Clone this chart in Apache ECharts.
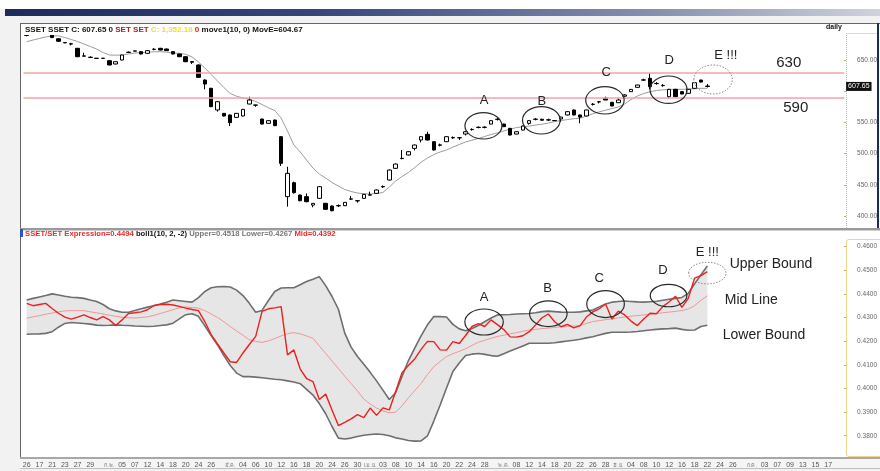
<!DOCTYPE html>
<html>
<head>
<meta charset="utf-8">
<script src="https://cdn.jsdelivr.net/npm/echarts@6/dist/echarts.min.js"></script>
<style>
  html, body { margin: 0; padding: 0; background: #fff; }
  #wrap { position: relative; width: 880px; height: 471px; overflow: hidden; background: #f2f2f2; }
  .box { position: absolute; box-sizing: border-box; }
  #chart { position: absolute; left: 0; top: 0; width: 880px; height: 471px; }
</style>
</head>
<body>
<div id="wrap">
  <div class="box" style="left:0;top:0;width:880px;height:9px;background:#fff"></div>
  <div class="box" style="left:5px;top:9px;width:875px;height:7px;background:linear-gradient(to right,#1e2b5a 0%,#35457a 35%,#8891b0 75%,#d0d3db 100%)"></div>
  <div class="box" style="left:20px;top:23px;width:860px;height:205px;background:#fff;border-top:1px solid #666;border-left:1px solid #666"></div>
  <div class="box" style="left:846px;top:33px;width:31px;height:195px;border-left:1px dotted #dcb55a;border-top:1px solid #f0dca0"></div>
  <div class="box" style="left:877px;top:23px;width:2px;height:205px;background:#1e2b5a"></div>
  <div class="box" style="left:20px;top:228px;width:860px;height:3px;background:#9a9a9a;border-bottom:1px solid #d0d0d0"></div>
  <div class="box" style="left:20px;top:231px;width:860px;height:226px;background:#fff;border-left:1px solid #666"></div>
  <div class="box" style="left:846px;top:239px;width:36px;height:218px;border:1px solid #f0d68c;border-radius:3px"></div>
  <div class="box" style="left:20px;top:229px;width:3px;height:8px;background:#2a55c8"></div>
  <div class="box" style="left:20px;top:457px;width:860px;height:12px;background:#f5f5f5;border-top:2px solid #a8a8a8;border-bottom:1px solid #c0c0c0"></div>
  <div id="chart"></div>
</div>
<script>
// SSET daily candles [open, close, low, high], Jan 15 - Jun 22
const candles = [
  [690,689.5,688,691],[694,697,693,698],[697,699,696,700],[699,696,694,700],[691,686,685,692],
  [684,680,679,685],[678,677.5,677,678.5],[676,675.5,673.5,677.5],[668.7,655.3,654.5,669.5],[656.6,656.2,655.8,661.7],
  [654.5,654,653,656],[652.9,652.5,652.2,653.2],[652.6,652.9,652.2,653.3],[648.9,642,641.5,649.5],[643.6,647.3,643,648],
  [650,658,649.5,658.5],[662,662.6,661.3,663.6],[664.2,664.6,664,665],[663.4,659.6,659,664],[660.7,665,660,665.5],
  [667,667.3,665.5,669],[668.7,666,665.5,669.5],[667.6,665,664.5,668.5],[663.4,659.6,659,664],[659.6,655.3,654.5,660],
  [655.3,647.3,646.5,656],[647.5,646.5,643.6,647.8],[642,622.2,621.5,643],[617.9,611.5,603,619],[604.6,575.2,574.5,605.5],
  [569.9,583.2,567.2,584],[564.5,560.3,559.5,565],[561.9,549.6,544.2,562.5],[558.1,564.5,557.5,565],[560.3,570.9,559.5,571.5],
  [579.5,585.9,579,591.2],[577.6,577.9,575,578.2],[555.4,547.4,546.5,556],[548.5,552.8,548,553.5],[553.8,544.8,544,554.5],
  [527.1,484.4,480.1,528],[431,468.4,415,479],[453.4,437.4,436,455],[433.6,424.6,423.5,434.5],[431,423,422,436.3],
  [417.5,420.3,414,420.8],[428.3,447,427.5,448],[420.3,410.7,410,421],[416,408.5,407.5,417],[416.3,416.8,414.5,418.5],
  [416.5,421.9,416,422.5],[427,427.5,426,432],[424.2,424.6,421.4,425],[428.3,434.7,427.5,435.5],[433.9,433.5,433,439],
  [436.3,441.7,435.5,442.5],[446.8,447.3,445,449],[457.7,473.7,457,474.5],[476.4,483.3,475.5,484],[492,492.5,491,505.7],
  [497.8,503.1,497,504],[508.4,513.8,505,514.5],[521.8,527.1,518,528],[530.9,521.8,521,535.1],[519.1,505.8,505,520],
  [513.5,514,511.5,516],[519.1,527.1,518.5,528],[525.3,525.8,523.5,527.5],[525.2,525.5,521.8,526],[531.4,535.1,529,536],
  [538.5,538.8,536.8,540.5],[541.8,542.3,540.5,543.5],[542,542.4,540.5,543.8],[547.4,552.8,547,553.5],[554.7,555.1,553,557],
  [547.4,543.2,542.5,548],[540.5,529.8,529,541],[531.4,535.1,531,535.8],[537.8,544.2,537.3,545],[548.5,552.8,546.5,553.5],
  [554.9,555.2,553.3,556.8],[555,553.5,553,556],[553.8,554.2,552.5,556],[552.8,553,552.5,553.4],[555.5,558.5,551,559],
  [561.9,567.2,561.4,568],[569.9,561.9,561.3,570.5],[561.9,558.5,548.5,562.5],[560.3,569.9,559.8,570.5],[578.8,579.2,577,581],
  [582.8,583.2,580.5,583.5],[588.6,585.9,585.5,591.2],[582.2,576.3,575.8,583],[581.6,585.9,581,589],[592,594,591,595],
  [599.3,602.9,598.8,603.5],[606.2,609.9,605.5,610.5],[617.8,618.2,616.5,620],[620.6,607.3,603,628.6],[612.2,612.5,610.5,614.5],
  [609.3,609,607,611.5],[591.2,603,588,603.8],[603,591.2,590.5,603.8],[599.3,595.5,595,600],[596.6,603,596,603.6],
  [604.6,613.7,604,614.3],[617.9,614.7,614,618.5],[608.2,607.65,606,611.5]
];

// move1(10, 0) line
const moveE = [
  679.3,682,684.5,686.9,688.5,688.8,686,682.9,679.6,675.6,
  671.6,667.6,662,658,657.7,658,659.6,661.2,661.7,662.5,
  663.1,663.3,662.5,661.2,660.7,659.1,654.8,646.8,637.2,626.8,
  616.3,605.9,596.3,592,589.1,587.2,583.5,578.7,573.4,569.1,
  557,536.2,513.8,502.6,489.7,476.9,467.3,460.9,453.7,448.1,
  442.5,439.3,436.9,435.7,435.3,436.1,437.7,446.5,456.1,463.3,
  469.7,477.7,486.2,492.9,498.6,502.6,505.8,510.3,514.6,518.6,
  521.5,524.2,527.4,530.6,533.3,536.2,539.4,541.7,543,544.2,
  545.8,547.1,549,551.4,553,554.6,555.9,556.7,560.3,563.8,
  567,569.5,572.3,574.7,579.5,586.7,592.3,596.3,599.2,601.1,
  602.2,602.9,603,603,603.5,604,604.6,604.67
];

// SSET/SET expression and boll1(10, 2, -2)
const ratio = [
  0.4360,0.4350,0.4355,0.4360,0.4338,0.4318,0.4302,0.4293,0.4302,0.4311,
  0.4300,0.4290,0.4304,0.4290,0.4266,0.4290,0.4317,0.4320,0.4324,0.4333,
  0.4351,0.4355,0.4356,0.4353,0.4347,0.4340,0.4334,0.4329,0.4283,0.4228,
  0.4188,0.4150,0.4113,0.4110,0.4150,0.4186,0.4220,0.4326,0.4337,0.4341,
  0.4346,0.4142,0.4163,0.4082,0.4042,0.4029,0.3953,0.3976,0.3909,0.3843,
  0.3856,0.3871,0.3889,0.3877,0.3917,0.3886,0.3918,0.3909,0.3987,0.4067,
  0.4097,0.4125,0.4165,0.4199,0.4198,0.4163,0.4162,0.4198,0.4190,0.4224,
  0.4262,0.4274,0.4262,0.4290,0.4270,0.4249,0.4218,0.4217,0.4223,0.4240,
  0.4269,0.4299,0.4315,0.4282,0.4261,0.4271,0.4256,0.4266,0.4302,0.4324,
  0.4337,0.4357,0.4294,0.4327,0.4311,0.4285,0.4266,0.4294,0.4318,0.4316,
  0.4346,0.4367,0.4390,0.4343,0.4381,0.4467,0.4477,0.4494
];
const upper = [
  0.4374,0.4381,0.4387,0.4393,0.4400,0.4395,0.4390,0.4386,0.4384,0.4381,
  0.4374,0.4368,0.4355,0.4337,0.4328,0.4322,0.4322,0.4330,0.4337,0.4344,
  0.4350,0.4357,0.4365,0.4374,0.4371,0.4368,0.4365,0.4384,0.4410,0.4426,
  0.4430,0.4431,0.4429,0.4416,0.4393,0.4360,0.4322,0.4330,0.4372,0.4410,
  0.4425,0.4426,0.4426,0.4439,0.4452,0.4462,0.4473,0.4435,0.4389,0.4335,
  0.4234,0.4175,0.4135,0.4102,0.4068,0.4032,0.3993,0.3953,0.3982,0.4051,
  0.4117,0.4171,0.4222,0.4269,0.4304,0.4304,0.4302,0.4271,0.4252,0.4244,
  0.4254,0.4266,0.4282,0.4298,0.4311,0.4312,0.4313,0.4315,0.4316,0.4317,
  0.4320,0.4325,0.4327,0.4325,0.4323,0.4322,0.4322,0.4324,0.4328,0.4332,
  0.4345,0.4357,0.4365,0.4368,0.4370,0.4368,0.4366,0.4365,0.4367,0.4369,
  0.4373,0.4377,0.4381,0.4385,0.4402,0.4443,0.4481,0.4518
];
const mid = [
  0.4297,0.4303,0.4308,0.4314,0.4319,0.4324,0.4328,0.4329,0.4329,0.4329,
  0.4324,0.4320,0.4315,0.4310,0.4305,0.4301,0.4299,0.4298,0.4300,0.4303,
  0.4309,0.4317,0.4325,0.4333,0.4341,0.4345,0.4342,0.4340,0.4329,0.4315,
  0.4300,0.4282,0.4262,0.4243,0.4225,0.4206,0.4199,0.4195,0.4201,0.4211,
  0.4222,0.4232,0.4236,0.4231,0.4222,0.4212,0.4180,0.4148,0.4116,0.4084,
  0.4052,0.4021,0.3989,0.3955,0.3934,0.3917,0.3905,0.3897,0.3900,0.3926,
  0.3960,0.3991,0.4021,0.4059,0.4092,0.4114,0.4135,0.4147,0.4157,0.4168,
  0.4182,0.4195,0.4204,0.4212,0.4220,0.4225,0.4231,0.4236,0.4242,0.4247,
  0.4250,0.4253,0.4255,0.4258,0.4261,0.4263,0.4264,0.4266,0.4275,0.4283,
  0.4287,0.4291,0.4294,0.4299,0.4302,0.4306,0.4308,0.4311,0.4314,0.4317,
  0.4320,0.4323,0.4326,0.4330,0.4336,0.4350,0.4373,0.4392
];
const lower = [
  0.4229,0.4230,0.4231,0.4233,0.4240,0.4259,0.4275,0.4279,0.4277,0.4275,
  0.4272,0.4268,0.4266,0.4267,0.4269,0.4267,0.4266,0.4264,0.4263,0.4262,
  0.4263,0.4266,0.4269,0.4276,0.4294,0.4312,0.4316,0.4305,0.4265,0.4224,
  0.4184,0.4139,0.4097,0.4065,0.4050,0.4050,0.4048,0.4045,0.4042,0.4039,
  0.4037,0.4032,0.4027,0.4020,0.3996,0.3972,0.3936,0.3893,0.3839,0.3790,
  0.3786,0.3790,0.3797,0.3802,0.3805,0.3807,0.3805,0.3800,0.3791,0.3786,
  0.3780,0.3777,0.3778,0.3799,0.3862,0.3930,0.4002,0.4072,0.4108,0.4139,
  0.4145,0.4148,0.4144,0.4139,0.4136,0.4147,0.4158,0.4169,0.4180,0.4191,
  0.4191,0.4191,0.4191,0.4193,0.4197,0.4201,0.4204,0.4208,0.4214,0.4219,
  0.4226,0.4233,0.4238,0.4238,0.4238,0.4239,0.4241,0.4244,0.4247,0.4250,
  0.4252,0.4253,0.4255,0.4250,0.4246,0.4247,0.4262,0.4267
];

// date axis: 129 trading-day slots, a label every second day, month names at month starts
const tickIdx = [0,2,4,6,8,10,13,15,17,19,21,23,25,27,29,32,34,36,38,40,42,44,46,48,50,52,
  54,56,58,60,62,64,66,68,70,72,75,77,79,81,83,85,87,89,91,93,95,97,99,101,103,105,107,109,111,
  114,116,118,120,122,124,126];
const tickText = ['26','17','21','23','27','29','ก.พ.','05','07','12','14','18','20','24','26',
  'มี.ค.','04','06','10','12','16','18','20','24','26','30','เม.ย.','03','08','10','14','16','20',
  '22','24','28','พ.ค.','08','12','14','18','20','22','26','28','มิ.ย.','04','08','10','12','16',
  '18','22','24','26','ก.ค.','03','07','09','13','15','17'];
const priceTicks = [400, 450, 500, 550, 600, 650];
const priceLabels = [400, 450, 500, 550, 650]; // 600.00 sits under the last-price tag
const ratioTicks = [0.38, 0.39, 0.40, 0.41, 0.42, 0.43, 0.44, 0.45, 0.46];
const levels = [630, 590];
const lastClose = 607.65;

// annotations: [text, bar, value]
const topLabels = [['A',71.9,585.9],['B',81,584.3],['C',91.1,629.6],['D',101,650],['E !!!',109.9,658]];
const topLevelLabels = [['630',119.8,644.7],['590',120.9,572.6]];
const topRings = [[71.8,544.6,18.5,13.2,0],[80.9,553.4,18.8,13.7,0],[90.9,585.4,19.2,13.7,0],[100.9,602.4,18.5,13.7,0],[107.9,618.8,19.2,14.5,1]];
const lowLabels = [['A',71.9,0.4384],['B',81.9,0.4421],['C',90,0.4466],['D',100,0.4498],['E !!!',107,0.4575]];
const lowBandLabels = [['Upper Bound',117,0.4525],['Mid Line',113.9,0.4374],['Lower Bound',115.9,0.4226]];
const lowRings = [[71.9,0.4281,19.2,13,0],[82,0.4316,18.8,12.8,0],[91,0.4357,18.8,13.5,0],[100.9,0.4393,18.3,11.2,0],[107,0.4488,18.7,10.8,1]];

const FONT = '"Liberation Sans", Arial, sans-serif';
const slots = Array.from({ length: 129 }, (_, i) => String(i));
const axisText = new Array(129).fill('');
tickIdx.forEach((k, n) => { axisText[k] = tickText[n]; });

const chart = echarts.init(document.getElementById('chart'));

const bandWidth = upper.map((u, i) => +(u - lower[i]).toFixed(4));

chart.setOption({
  animation: false,
  textStyle: { fontFamily: FONT },
  title: [
    {
      left: 23, top: 25, padding: [1, 2], backgroundColor: '#fff',
      text: '{a|SSET SSET C: 607.65 0 }{b|SET SET }{c|C: 1,352.18 }{d|0 }{a|move1(10, 0) MovE=604.67}',
      textStyle: { rich: {
        a: { fontSize: 8, fontWeight: 'bold', color: '#111', fontFamily: FONT },
        b: { fontSize: 8, fontWeight: 'bold', color: '#b3201e', fontFamily: FONT },
        c: { fontSize: 8, fontWeight: 'bold', color: '#f3e11b', fontFamily: FONT },
        d: { fontSize: 8, fontWeight: 'bold', color: '#d3201e', fontFamily: FONT }
      } }
    },
    {
      left: 826, top: 24, padding: 0, text: 'daily',
      textStyle: { fontSize: 7, fontWeight: 'bold', color: '#111', fontFamily: FONT }
    },
    {
      left: 23, top: 229, padding: [1, 2],
      text: '{r|SSET/SET Expression=0.4494 }{k|boll1(10, 2, -2) }{g|Upper=0.4518 Lower=0.4267 }{r|Mid=0.4392}',
      textStyle: { rich: {
        r: { fontSize: 7.7, fontWeight: 'bold', color: '#ee2a2a', fontFamily: FONT },
        k: { fontSize: 7.7, fontWeight: 'bold', color: '#111', fontFamily: FONT },
        g: { fontSize: 7.7, color: '#777', fontFamily: FONT }
      } }
    }
  ],
  grid: [
    { left: 23.5, right: 34.8, top: 23, height: 204 },
    { left: 23.5, right: 34.8, top: 231, height: 226 }
  ],
  xAxis: [
    { type: 'category', gridIndex: 0, data: slots, axisLine: { show: false }, axisTick: { show: false }, axisLabel: { show: false } },
    {
      type: 'category', gridIndex: 1, data: slots, axisLine: { show: false }, axisTick: { show: false },
      axisLabel: {
        interval: 0, fontSize: 7, color: '#555', margin: 5, fontFamily: FONT,
        formatter: (v, i) => (/^\d+$/.test(axisText[i]) ? axisText[i] : (axisText[i] ? '{m|' + axisText[i] + '}' : '')),
        rich: { m: { fontSize: 5.5, color: '#777', fontFamily: FONT } }
      }
    }
  ],
  yAxis: [
    {
      type: 'value', gridIndex: 0, position: 'right', min: 382.4, max: 709.3, splitLine: { show: false },
      axisLine: { show: false },
      axisTick: { show: true, customValues: priceTicks, length: 2, lineStyle: { color: '#c9a550' } },
      axisLabel: { customValues: priceLabels, formatter: (v) => v.toFixed(2), fontSize: 6.5, color: '#666', margin: 13, fontFamily: FONT }
    },
    {
      type: 'value', gridIndex: 1, position: 'right', min: 0.371, max: 0.4666, splitLine: { show: false },
      axisLine: { show: false },
      axisTick: { show: true, customValues: ratioTicks, length: 2, lineStyle: { color: '#c9a550' } },
      axisLabel: { customValues: ratioTicks, formatter: (v) => v.toFixed(4), fontSize: 6.5, color: '#666', margin: 13, fontFamily: FONT }
    }
  ],
  series: [
    {
      name: 'SSET', type: 'candlestick', xAxisIndex: 0, yAxisIndex: 0, data: candles, barWidth: 4,
      itemStyle: { color: '#fff', color0: '#000', borderColor: '#000', borderColor0: '#000', borderWidth: 1 },
      markLine: {
        silent: true, symbol: 'none', animation: false,
        lineStyle: { color: '#f4a2a2', width: 1.5, type: 'solid' },
        label: { show: false },
        data: levels.map((v) => ({ yAxis: v }))
      }
    },
    {
      name: 'lastTag', type: 'line', xAxisIndex: 0, yAxisIndex: 0, data: [], symbol: 'none',
      markLine: {
        silent: true, symbol: 'none', animation: false,
        lineStyle: { color: 'rgba(0,0,0,0)', width: 0 },
        data: [{
          yAxis: lastClose,
          label: { show: true, position: 'end', formatter: lastClose.toFixed(2), color: '#fff', backgroundColor: '#111',
            fontSize: 7, padding: [1, 2, 1, 2], distance: 2, fontFamily: FONT }
        }]
      }
    },
    {
      name: 'MovE', type: 'line', xAxisIndex: 0, yAxisIndex: 0, data: moveE, symbol: 'none',
      lineStyle: { color: '#9c9c9c', width: 1 }, z: 1
    },
    {
      name: 'bandBase', type: 'line', xAxisIndex: 1, yAxisIndex: 1, data: lower, stack: 'band',
      symbol: 'none', lineStyle: { opacity: 0 }, silent: true
    },
    {
      name: 'bandFill', type: 'line', xAxisIndex: 1, yAxisIndex: 1, data: bandWidth, stack: 'band',
      symbol: 'none', lineStyle: { opacity: 0 }, areaStyle: { color: '#e6e6e6', opacity: 1 }, silent: true
    },
    {
      name: 'Mid', type: 'line', xAxisIndex: 1, yAxisIndex: 1, data: mid, symbol: 'none',
      lineStyle: { color: '#f29696', width: 1 }
    },
    {
      name: 'Upper', type: 'line', xAxisIndex: 1, yAxisIndex: 1, data: upper, symbol: 'none',
      lineStyle: { color: '#6e6e6e', width: 1.6 }
    },
    {
      name: 'Lower', type: 'line', xAxisIndex: 1, yAxisIndex: 1, data: lower, symbol: 'none',
      lineStyle: { color: '#6e6e6e', width: 1.6 }
    },
    {
      name: 'Expression', type: 'line', xAxisIndex: 1, yAxisIndex: 1, data: ratio, symbol: 'none',
      lineStyle: { color: '#ee1f1f', width: 1.4 }
    }
  ]
});

// place notes through the axes: bar index (fractional) and value
function toPx(gridIndex, bar, value) {
  const b = Math.floor(bar);
  const p0 = chart.convertToPixel({ gridIndex }, [b, value]);
  const p1 = chart.convertToPixel({ gridIndex }, [b + 1, value]);
  return [p0[0] + (bar - b) * (p1[0] - p0[0]), p0[1]];
}

const notes = [];
function addText(gridIndex, list, size) {
  list.forEach(([t, bar, v]) => {
    const [x, y] = toPx(gridIndex, bar, v);
    notes.push({
      type: 'text', x, y, z: 50, silent: true,
      style: { text: t, fill: '#222', font: size + 'px ' + FONT, textAlign: 'center', textVerticalAlign: 'middle', align: 'center', verticalAlign: 'middle' }
    });
  });
}
function addRings(gridIndex, list) {
  list.forEach(([bar, v, rx, ry, dotted]) => {
    const [x, y] = toPx(gridIndex, bar, v);
    notes.push({
      type: 'ellipse', z: 49, silent: true,
      shape: { cx: x, cy: y, rx, ry },
      style: dotted
        ? { fill: 'none', stroke: '#8a8a8a', lineWidth: 1, lineDash: [1.5, 1.5] }
        : { fill: 'none', stroke: '#2a2a2a', lineWidth: 1.2 }
    });
  });
}
addRings(0, topRings);
addRings(1, lowRings);
addText(0, topLabels, 13);
addText(0, topLevelLabels, 15);
addText(1, lowLabels, 13);
addText(1, lowBandLabels, 14);

chart.setOption({ graphic: notes });
</script>
</body>
</html>
